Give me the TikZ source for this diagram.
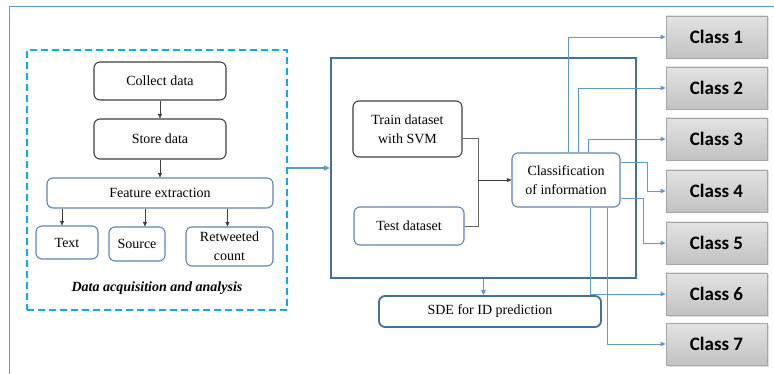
\documentclass[tikz,border=0pt]{standalone}
\usepackage{fontspec}
\setmainfont{Liberation Serif}
\newfontfamily\classfont{Carlito}
\usetikzlibrary{arrows.meta,shadows,calc}
\definecolor{frameblue}{HTML}{5B9BD5}
\definecolor{dashcyan}{HTML}{00B0F0}
\definecolor{darkblue}{HTML}{41719C}
\definecolor{boxblue}{HTML}{5A86B5}
\definecolor{boxgray}{HTML}{3F3F3F}
\definecolor{clsborder}{HTML}{A6A6A6}
\tikzset{
  base/.style={rounded corners=6pt, align=center, inner sep=2pt,
    font=\fontsize{14}{19}\selectfont, line width=1.1pt},
  graybox/.style={base, draw=boxgray},
  bluebox/.style={base, draw=boxblue},
  bigbox/.style={draw=darkblue, line width=2pt},
  sdebox/.style={base, draw=darkblue, line width=1.8pt},
  dashbox/.style={draw=dashcyan, line width=1.8pt, dash pattern=on 7pt off 4pt},
  clsbox/.style={draw=clsborder, line width=0.8pt, top color=gray!22, bottom color=gray!48,
    minimum width=101pt, minimum height=42pt,
    font=\classfont\bfseries\fontsize{19}{22}\selectfont,
    drop shadow={shadow xshift=1.5pt, shadow yshift=-1.5pt, opacity=0.25}},
  karr/.style={-{Triangle[length=4.5pt,width=4pt]}, line width=0.5pt, draw=black!75},
  garr/.style={line width=0.6pt, draw=black!60},
  barr/.style={-{Triangle[length=5pt,width=4.5pt]}, line width=0.9pt, draw=frameblue},
  thickarr/.style={-{Triangle[length=6pt,width=5pt]}, line width=1.8pt, draw=frameblue},
}
\begin{document}
\begin{tikzpicture}[x=1pt,y=-1pt]
\useasboundingbox (0,0) rectangle (774,374);
% outer frame
\draw[frameblue, line width=1pt] (774,7) -- (9,7) -- (9,374);

% left part
\node[dashbox, minimum width=260pt, minimum height=260pt] (acq) at (157,180) {};
\node[graybox, minimum width=132pt, minimum height=38pt] (collect) at (160,81) {Collect data};
\node[graybox, minimum width=132pt, minimum height=40pt] (store) at (160,139) {Store data};
\node[bluebox, minimum width=226pt, minimum height=30pt] (feat) at (160,193) {Feature extraction};
\node[bluebox, minimum width=62pt, minimum height=33pt] (text) at (67,242.5) {Text};
\node[bluebox, minimum width=56pt, minimum height=34pt] (source) at (137,244) {Source};
\node[bluebox, minimum width=87pt, minimum height=39pt] (retw) at (229.5,246.5) {Retweeted\\count};
\node[font=\fontsize{14}{16}\selectfont\bfseries\itshape] (cap) at (157,288) {Data acquisition and analysis};

\draw[karr] (collect) -- (store);
\draw[karr] (store) -- (feat);
\draw[karr] ([xshift=-5pt]text.north |- feat.south) -- ([xshift=-5pt]text.north);
\draw[karr] ([xshift=8pt]source.north |- feat.south) -- ([xshift=8pt]source.north);
\draw[karr] ([xshift=-2pt]retw.north |- feat.south) -- ([xshift=-2pt]retw.north);

% middle part
\node[bigbox, minimum width=305pt, minimum height=220pt] (main) at (483.5,168) {};
\draw[thickarr] (acq.east |- main.west) -- (main.west);
\node[graybox, minimum width=109pt, minimum height=56pt] (train) at (407.5,129) {Train dataset\\with SVM};
\node[bluebox, minimum width=110pt, minimum height=38pt] (test) at (409,226) {Test dataset};
\node[bluebox, minimum width=108pt, minimum height=54pt] (classif) at (566,180) {Classification\\of information};
\node[sdebox, minimum width=222pt, minimum height=31pt] (sde) at (490,311.5) {SDE for ID prediction};

\coordinate (j) at (478,180);
\draw[garr] ([yshift=-9pt]train.east) -| (j);
\draw[garr] (test.east) -| (j);
\draw[karr] (j) -- (classif.west);
\draw[barr] (main.south) -- (main.south |- sde.north);

% classes
\foreach \i/\y in {1/37,2/88,3/139,4/191,5/243,6/294,7/344}{
  \node[clsbox] (c\i) at (716.5,\y) {Class \i};
}
\draw[barr] ([xshift=2pt]classif.north) |- (c1.west);
\draw[barr] ([xshift=12pt]classif.north) |- (c2.west);
\draw[barr] ([xshift=22pt]classif.north) |- (c3.west);
\draw[barr] ([yshift=18pt]classif.east) -- ++(27,0) |- (c4.west);
\draw[barr] ([yshift=-18pt]classif.east) -- ++(23,0) |- (c5.west);
\draw[barr] ([xshift=24pt]classif.south) |- (c6.west);
\draw[barr] ([xshift=41pt]classif.south) |- (c7.west);
\end{tikzpicture}
\end{document}
